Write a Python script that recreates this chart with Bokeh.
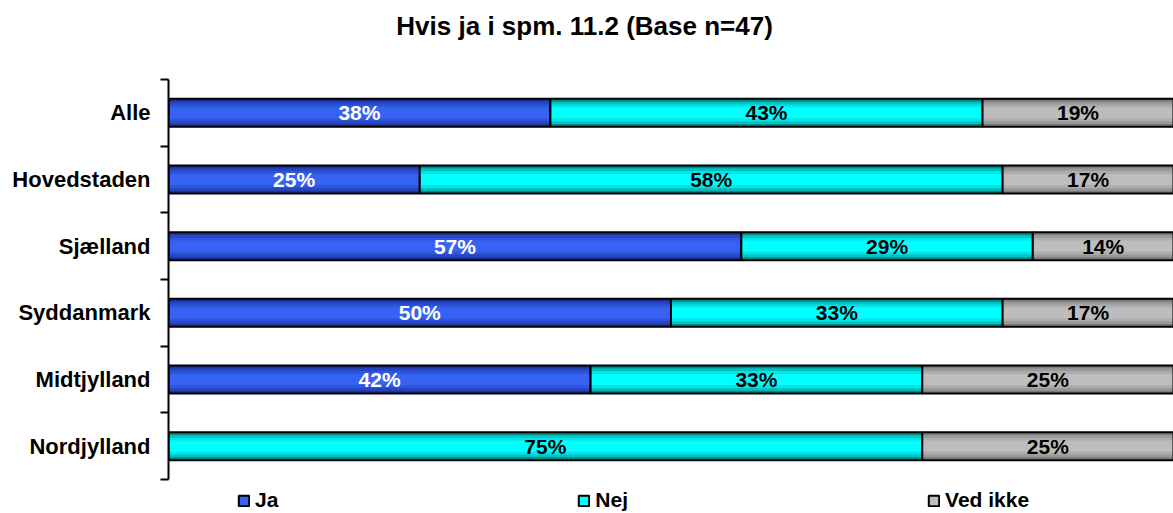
from bokeh.plotting import figure
from bokeh.models import Range1d, FixedTicker, Legend, LegendItem, ColumnDataSource, Label
from bokeh.core.properties import value
from bokeh.embed import file_html
from bokeh.resources import INLINE

title_text = "Hvis ja i spm. 11.2 (Base n=47)"
categories = ["Alle", "Hovedstaden", "Sjælland", "Syddanmark", "Midtjylland", "Nordjylland"]
series_names = ["Ja", "Nej", "Ved ikke"]
ja = [38, 25, 57, 50, 42, 0]
nej = [43, 58, 29, 33, 33, 75]
ved_ikke = [19, 17, 14, 17, 25, 25]

# shading (edge -> centre) to mimic the gradient fill of the bars
shades = [
    ["#1E3399", "#2746C4", "#2F55DC", "#3663F2"],
    ["#008B8B", "#00C0C0", "#00E6E6", "#00FFFF"],
    ["#7A7A7A", "#999999", "#ADADAD", "#BDBDBD"],
]
shade_frac = [1.0, 0.8, 0.6, 0.4]
label_colors = ["white", "black", "black"]
FONT = "Liberation Sans"
BAR_H = 0.42

n = len(categories)
ypos = [n - i - 0.5 for i in range(n)]

p = figure(width=1173, height=513, output_backend="svg", toolbar_location=None,
           x_range=Range1d(0, 100), y_range=Range1d(-0.51, n + 1.185),
           x_axis_location=None, min_border_left=168, min_border_right=0,
           min_border_top=0, min_border_bottom=0)
p.title.visible = False
p.outline_line_color = None
p.xgrid.visible = False
p.ygrid.visible = False
p.background_fill_color = "white"
p.border_fill_color = "white"

ax = p.yaxis[0]
ax.bounds = (0, n)
ax.ticker = FixedTicker(ticks=ypos, minor_ticks=list(range(n + 1)))
ax.major_label_overrides = {y: c for y, c in zip(ypos, categories)}
ax.major_tick_in = 0
ax.major_tick_out = 0
ax.minor_tick_in = 0
ax.minor_tick_out = 8
ax.minor_tick_line_color = "black"
ax.minor_tick_line_width = 2
ax.axis_line_color = "black"
ax.axis_line_width = 2
ax.major_label_standoff = 10
ax.major_label_text_font = FONT
ax.major_label_text_font_size = "22px"
ax.major_label_text_font_style = "bold"
ax.major_label_text_color = "black"

values = [ja, nej, ved_ikke]
legend_renderers = []
left = [0] * n
for k, vals in enumerate(values):
    right = [l + v for l, v in zip(left, vals)]
    src = ColumnDataSource(dict(y=ypos, left=left, right=right))
    layers = []
    for frac, col in zip(shade_frac, shades[k]):
        layers.append(p.hbar(y="y", left="left", right="right", height=BAR_H * frac,
                             source=src, fill_color=col, line_color=None))
    outline = p.hbar(y="y", left="left", right="right", height=BAR_H, source=src,
                     fill_color=None, line_color="black", line_width=2)
    legend_renderers.append([layers[-1], outline])
    lx, ly, lt = [], [], []
    for l, v, y in zip(left, vals, ypos):
        if v > 0:
            lx.append(l + v / 2)
            ly.append(y)
            lt.append(f"{v}%")
    p.text(x=lx, y=ly, text=lt, text_align="center", text_baseline="middle",
           text_font=value(FONT), text_font_size="21px", text_font_style="bold",
           text_color=label_colors[k])
    left = right

legend = Legend(items=[LegendItem(label=name, renderers=legend_renderers[k])
                       for k, name in enumerate(series_names)],
                location=(69, 1), orientation="horizontal",
                border_line_color=None, background_fill_alpha=0,
                padding=0, margin=0, spacing=299, glyph_width=13, glyph_height=13,
                label_standoff=5, label_text_font=FONT, label_text_font_size="21px",
                label_text_font_style="bold", label_text_color="black", label_height=20,
                label_text_baseline="middle")
p.add_layout(legend, "center")

title = Label(x=41.4, y=n + 0.8, text=title_text, text_align="center",
              text_baseline="middle", text_font=FONT, text_font_size="26px",
              text_font_style="bold", text_color="black")
p.add_layout(title)

open("out.html", "w").write(file_html(p, INLINE))
